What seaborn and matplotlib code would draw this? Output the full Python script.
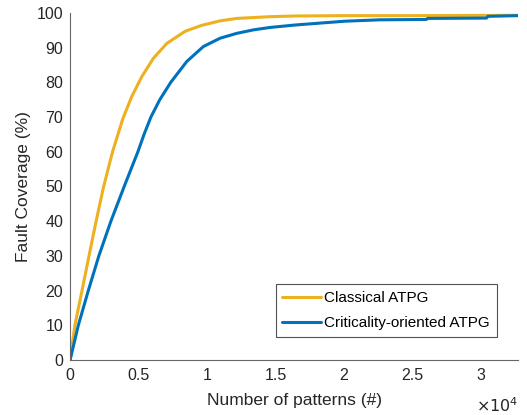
import numpy as np
import pandas as pd
import seaborn as sb
import matplotlib.pyplot as plt
from matplotlib.ticker import FuncFormatter

# curve points
x_classical = [0, 350, 870, 1380, 1900, 2450, 3100, 3850, 4500, 5230, 6080, 7060,
               8400, 9600, 10950, 12170, 14600, 16400, 20000, 25000, 32700]
y_classical = [0, 10, 20, 30, 40, 50, 60, 69.5, 75.9, 81.6, 86.9, 91.2,
               94.7, 96.4, 97.7, 98.4, 98.9, 99.1, 99.2, 99.2, 99.3]

x_critical = [0, 600, 1330, 2100, 2980, 3950, 4950, 5400, 5900, 6550, 7350, 8520,
              9730, 10950, 12170, 13380, 14600, 16420, 20070, 22630, 26000, 26100,
              30400, 30500, 32700]
y_critical = [0, 10, 20, 30, 40, 50, 60, 65, 70, 75, 80, 86.0,
              90.3, 92.7, 94.1, 95.1, 95.8, 96.5, 97.6, 98.0, 98.1, 98.4,
              98.5, 99.0, 99.2]

labels = ['Classical ATPG', 'Criticality-oriented ATPG']
colors = ['#EDB120', '#0072BD']

df = pd.concat([
    pd.DataFrame({'x': x_classical, 'y': y_classical, 'method': labels[0]}),
    pd.DataFrame({'x': x_critical, 'y': y_critical, 'method': labels[1]}),
])

sb.set_style("white")
plt.rcParams['font.family'] = ['Liberation Sans', 'DejaVu Sans']
grey = '#262626'

fig = plt.figure(figsize=(5.27, 4.15), dpi=100)
ax = fig.add_axes([0.133, 0.1325, 0.85, 0.8365])
sb.lineplot(data=df, x='x', y='y', hue='method', palette=colors, linewidth=2.2,
            sort=False, estimator=None, ax=ax)
for ln in ax.get_lines():
    ln.set_solid_joinstyle('round')

ax.set_xlim(0, 32700)
ax.set_ylim(0, 100)
ax.set_xticks([0, 5000, 10000, 15000, 20000, 25000, 30000])
ax.set_yticks(range(0, 101, 10))
ax.xaxis.set_major_formatter(FuncFormatter(lambda v, p: '{:g}'.format(v / 1e4)))
ax.tick_params(direction='in', length=4, width=0.8, colors=grey, labelsize=11.5,
               pad=5)
ax.tick_params(axis='x', pad=6)
for s in ['top', 'right']:
    ax.spines[s].set_visible(False)
for s in ['left', 'bottom']:
    ax.spines[s].set_color('#666666')
    ax.spines[s].set_linewidth(0.8)

ax.set_xlabel('Number of patterns (#)', fontsize=12.5, color=grey, labelpad=7)
ax.set_ylabel('Fault Coverage (%)', fontsize=12.5, color=grey, labelpad=4)
ax.text(1.0, -0.105, r'$\times 10^4$', transform=ax.transAxes, ha='right',
        va='top', fontsize=11.5, color=grey)

leg = ax.legend(loc='lower right', bbox_to_anchor=(0.97, 0.045), fontsize=11,
                frameon=True, fancybox=False, handlelength=2.5,
                borderpad=0.45, labelspacing=0.7, handletextpad=0.25,
                borderaxespad=0.5)
leg.get_frame().set_edgecolor(grey)
leg.get_frame().set_linewidth(0.8)
for t in leg.get_texts():
    t.set_color('black')

plt.savefig('out.png', dpi=100)
